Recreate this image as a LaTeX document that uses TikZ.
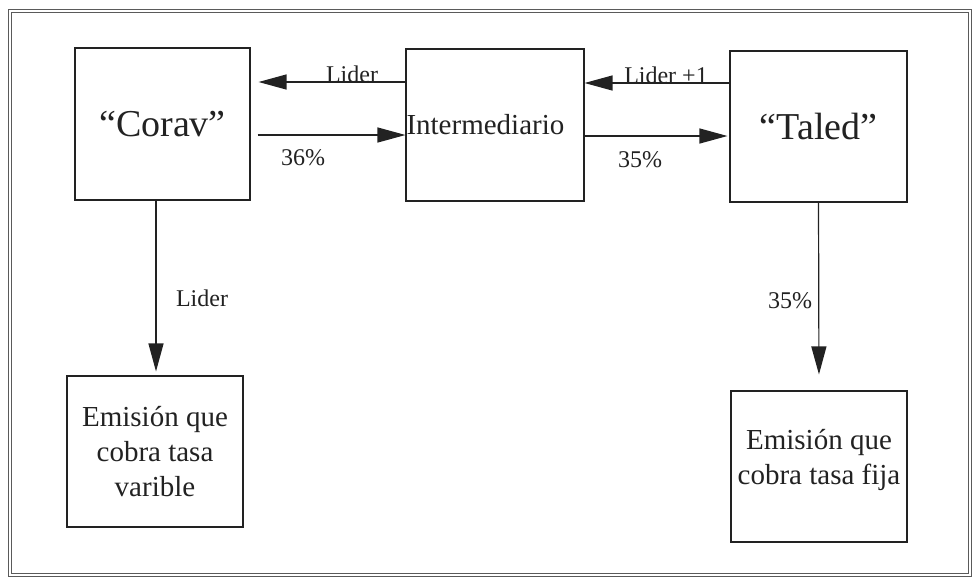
\documentclass[tikz,border=0pt]{standalone}
\usepackage{fontspec}
\setmainfont{Liberation Serif}
\usetikzlibrary{arrows.meta}
\definecolor{ink}{HTML}{222222}
\definecolor{framec}{HTML}{5A5A5A}
\tikzset{
  boxnode/.style={draw=ink, line width=1.1pt, rectangle, inner sep=0pt, text=ink, font=\fontsize{29}{35}\selectfont, align=center},
  bignode/.style={boxnode, font=\fontsize{38}{44}\selectfont},
  txt/.style={text=ink, font=\fontsize{29}{35}\selectfont, align=center, inner sep=0pt},
  lbl/.style={text=ink, font=\fontsize{24}{28}\selectfont, inner sep=0pt, anchor=base},
  arr/.style={draw=ink, line width=1.2pt, -{Triangle[length=28pt,width=15pt]}}
}
\begin{document}
\begin{tikzpicture}[x=1pt,y=-1pt]
\useasboundingbox (0,0) rectangle (973,579);
\fill[white] (0,0) rectangle (973,579);
\draw[framec, double=white, double distance=2.5pt, line width=1pt] (10,11) rectangle (970,575);
% boxes
\node[bignode, minimum width=175pt, minimum height=152pt] (corav) at (162.5,124) {“Corav”};
\node[boxnode, minimum width=178pt, minimum height=152pt, text width=177pt, align=left] (inter) at (495,125) {Intermediario};
\node[bignode, minimum width=177pt, minimum height=151pt] (taled) at (818.5,126.5) {“Taled”};
\node[boxnode, minimum width=176pt, minimum height=151pt] (var) at (155,451.5) {Emisión que\\cobra tasa\\varible};
\node[boxnode, minimum width=176pt, minimum height=151pt] (fija) at (819,466.5) {};
\node[txt] (fijat) at (819,460) {Emisión que\\cobra tasa fija};
% connectors
\draw[arr, shorten >=8pt] (inter.west |- 0,82) -- (corav.east |- 0,82);
\draw[arr, shorten <=7pt] (corav.east |- 0,135) -- (inter.west |- 0,135);
\draw[arr] (taled.west |- 0,83) -- (inter.east |- 0,83);
\draw[arr, shorten >=2pt] (inter.east |- 0,136) -- (taled.west |- 0,136);
\draw[arr, shorten >=4pt] (corav.south -| 156,0) -- (var.north -| 156,0);
\draw[arr, shorten >=16pt] (taled.south) -- (fija.north);
% labels
\node[lbl] (l1) at (352,82) {Lider};
\node[lbl] (l2) at (303,165) {36\%};
\node[lbl] (l3) at (666,83) {Lider +1};
\node[lbl] (l4) at (640,167) {35\%};
\node[lbl] (l5) at (202,306) {Lider};
\node[lbl] (l6) at (790,308) {35\%};
\end{tikzpicture}
\end{document}
